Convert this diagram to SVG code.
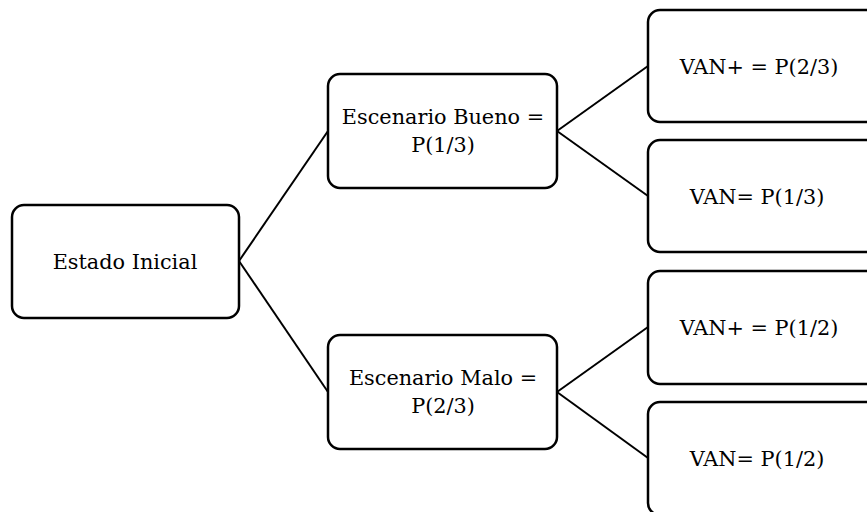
<svg xmlns="http://www.w3.org/2000/svg" width="867" height="512" viewBox="0 0 867 512">
<style>
.box{fill:#fff;stroke:#000;stroke-width:2.5}
.t{font-family:"DejaVu Serif","Liberation Serif",serif;font-size:20.8px;fill:#000;text-anchor:middle}
.c{stroke:#000;stroke-width:2;fill:none}
</style>
<rect width="867" height="512" fill="#fff"/>
<g id="connectors">
<line class="c" x1="239" y1="261" x2="328" y2="131"/>
<line class="c" x1="239" y1="261" x2="328" y2="392"/>
<line class="c" x1="557" y1="131" x2="648" y2="66"/>
<line class="c" x1="557" y1="131" x2="648" y2="196"/>
<line class="c" x1="557" y1="392" x2="648" y2="327"/>
<line class="c" x1="557" y1="392" x2="648" y2="458"/>
</g>
<g id="n-inicial">
<rect class="box" x="12" y="205" width="227" height="113" rx="12"/>
<text class="t" x="125" y="269">Estado Inicial</text>
</g>
<g id="n-bueno">
<rect class="box" x="328" y="74" width="229" height="114" rx="12"/>
<text class="t" x="443" y="124">Escenario Bueno =</text>
<text class="t" x="443" y="152">P(1/3)</text>
</g>
<g id="n-malo">
<rect class="box" x="328" y="335" width="229" height="114" rx="12"/>
<text class="t" x="443" y="385">Escenario Malo =</text>
<text class="t" x="443" y="413">P(2/3)</text>
</g>
<g id="n-b1">
<rect class="box" x="648" y="10" width="230" height="112" rx="12"/>
<text class="t" x="759" y="74">VAN+ = P(2/3)</text>
</g>
<g id="n-b2">
<rect class="box" x="648" y="140" width="230" height="112" rx="12"/>
<text class="t" x="757" y="204">VAN= P(1/3)</text>
</g>
<g id="n-m1">
<rect class="box" x="648" y="271" width="230" height="113" rx="12"/>
<text class="t" x="759" y="335">VAN+ = P(1/2)</text>
</g>
<g id="n-m2">
<rect class="box" x="648" y="402" width="230" height="113" rx="12"/>
<text class="t" x="757" y="466">VAN= P(1/2)</text>
</g>
</svg>
